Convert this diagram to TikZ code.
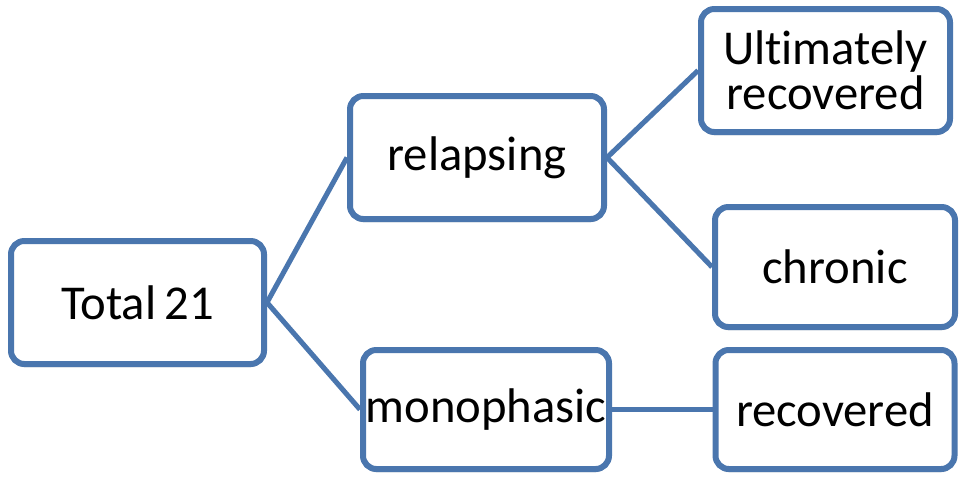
\documentclass[tikz,border=0pt]{standalone}
\usepackage{fontspec}
\setmainfont[Ligatures=NoCommon]{Carlito}
\usepackage{tikz}
\usetikzlibrary{shadows}
\definecolor{boxblue}{RGB}{74,118,174}
\tikzset{box/.style={draw=boxblue, line width=4.5pt, rounded corners=10pt, fill=white,
    drop shadow={opacity=0.25, shadow xshift=0pt, shadow yshift=-2.5pt},
    inner sep=0pt, align=center, font=\fontsize{36.5}{34}\selectfont},
  link/.style={draw=boxblue, line width=3.8pt}}

\begin{document}
\begin{tikzpicture}[x=0.75pt,y=-0.75pt]
\useasboundingbox (0,0) rectangle (960,476);

\node[box,minimum width=189.75pt,minimum height=92.25pt] (total) at (137.5,302.5) {Total\hspace{-2pt} 21};
\node[box,minimum width=190.5pt,minimum height=92.25pt] (relapse) at (477,157.5) {relapsing};
\node[box,minimum width=184.5pt,minimum height=89.25pt] (mono) at (486,409.5) {monophasic};
\node[box,minimum width=186.75pt,minimum height=92.25pt] (ultim) at (825.5,70.5) {Ultimately\\recovered};
\node[box,minimum width=180pt,minimum height=90pt] (chronic) at (835,267) {chronic};
\node[box,minimum width=179.25pt,minimum height=89.25pt] (recov) at (835,409.5) {recovered};

% links
\draw[link] (total.east) -- (relapse.west);
\draw[link] (total.east) -- (mono.west);
\draw[link] (relapse.east) -- (ultim.west);
\draw[link] (relapse.east) -- (chronic.west);
\draw[link] (mono.east) -- (recov.west);

\end{tikzpicture}
\end{document}
